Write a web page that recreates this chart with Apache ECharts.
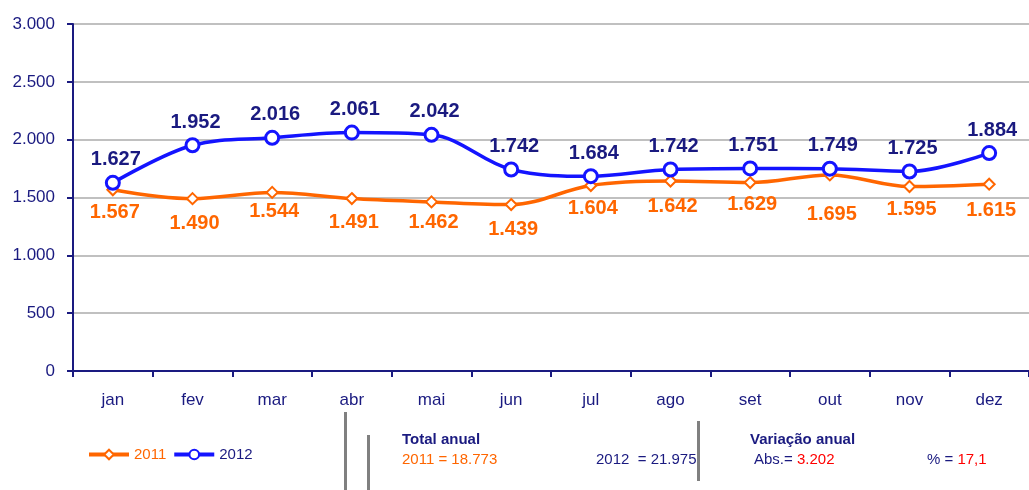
<!DOCTYPE html>
<html><head><meta charset="utf-8">
<script src="https://cdn.jsdelivr.net/npm/echarts@6/dist/echarts.min.js"></script>
<style>html,body{margin:0;padding:0;background:#fff}#c{width:1029px;height:490px}</style>
</head><body><div id="c"></div>
<script>
const months = ['jan','fev','mar','abr','mai','jun','jul','ago','set','out','nov','dez'];
const s2011 = [1567,1490,1544,1491,1462,1439,1604,1642,1629,1695,1595,1615];
const s2012 = [1627,1952,2016,2061,2042,1742,1684,1742,1751,1749,1725,1884];
const yTicks = {min:0, max:3000, interval:500};
// extra downward shift (px) of the 2011 labels, as placed in the reference
const labelShift2011 = [0,2,-3,1,-2,2,1,3,-1,17,0,4];
const fmt = v => { const s = String(Math.round(v)); return s.length>3 ? s.slice(0,-3)+'.'+s.slice(-3) : s; };
const navy = '#1a1a80', orange = '#ff6600', blue = '#1414ff';
const font = '"Liberation Sans", Arial, sans-serif';
const narrow = '"Liberation Sans Narrow", "Liberation Sans", Arial, sans-serif';
const chart = echarts.init(document.getElementById('c'));
chart.setOption({
  animation:false,
  textStyle:{fontFamily:font},
  grid:{left:73, top:24, width:966, height:347, containLabel:false},
  legend:{left:82, top:442, itemWidth:40, itemHeight:12, itemGap:6,
    textStyle:{fontFamily:narrow, fontSize:15, color:navy},
    data:[{name:'2011', textStyle:{color:orange}, lineStyle:{width:4}},
          {name:'2012', textStyle:{color:navy}, lineStyle:{width:4}}]},
  xAxis:{type:'category', data:months, boundaryGap:true,
    axisLine:{lineStyle:{color:navy, width:2}},
    axisTick:{show:true, length:6, lineStyle:{color:navy, width:2}},
    axisLabel:{color:navy, fontSize:17, margin:21, fontFamily:font}},
  yAxis:{type:'value', min:yTicks.min, max:yTicks.max, interval:yTicks.interval,
    axisLine:{show:true, lineStyle:{color:navy, width:2}},
    axisTick:{show:true, length:6, lineStyle:{color:navy, width:2}},
    splitLine:{lineStyle:{color:'#c0c0c0', width:2}},
    axisLabel:{color:navy, fontSize:17, margin:18, formatter:fmt, fontFamily:font}},
  series:[
    {name:'2011', type:'line', smooth:0.35, symbol:'diamond', symbolSize:11,
     data:s2011.map((v,i)=>({value:v, label:{offset:[2, labelShift2011[i]]}})),
     lineStyle:{color:orange, width:3.5}, itemStyle:{color:'#fff', borderColor:orange, borderWidth:2},
     label:{show:true, position:'bottom', distance:6, color:orange, fontWeight:'bold', fontSize:20, formatter:p=>fmt(p.value)}},
    {name:'2012', type:'line', data:s2012, smooth:0.35, symbol:'circle', symbolSize:13,
     lineStyle:{color:blue, width:3.5}, itemStyle:{color:'#fff', borderColor:blue, borderWidth:3},
     label:{show:true, position:'top', distance:5, offset:[3,0], color:navy, fontWeight:'bold', fontSize:20, formatter:p=>fmt(p.value)}}
  ],
  graphic:[
    {type:'rect', shape:{x:344, y:412, width:3, height:78}, style:{fill:'#808080'}},
    {type:'rect', shape:{x:367, y:435, width:3, height:55}, style:{fill:'#808080'}},
    {type:'rect', shape:{x:697, y:421, width:3, height:60}, style:{fill:'#808080'}},
    {type:'text', left:402, top:432, style:{text:'Total anual', fill:navy, font:'bold 15px '+narrow}},
    {type:'text', left:402, top:452, style:{text:'2011 = 18.773', fill:orange, font:'15px '+narrow}},
    {type:'text', left:596, top:452, style:{text:'2012  = 21.975', fill:navy, font:'15px '+narrow}},
    {type:'text', left:750, top:432, style:{text:'Variação anual', fill:navy, font:'bold 15px '+narrow}},
    {type:'text', left:754, top:452, style:{text:'{a|Abs.= }{b|3.202}', rich:{a:{fill:navy, font:'15px '+narrow}, b:{fill:'#ff0000', font:'15px '+narrow}}}},
    {type:'text', left:927, top:452, style:{text:'{a|% = }{b|17,1}', rich:{a:{fill:navy, font:'15px '+narrow}, b:{fill:'#ff0000', font:'15px '+narrow}}}}
  ]
});
</script></body></html>
